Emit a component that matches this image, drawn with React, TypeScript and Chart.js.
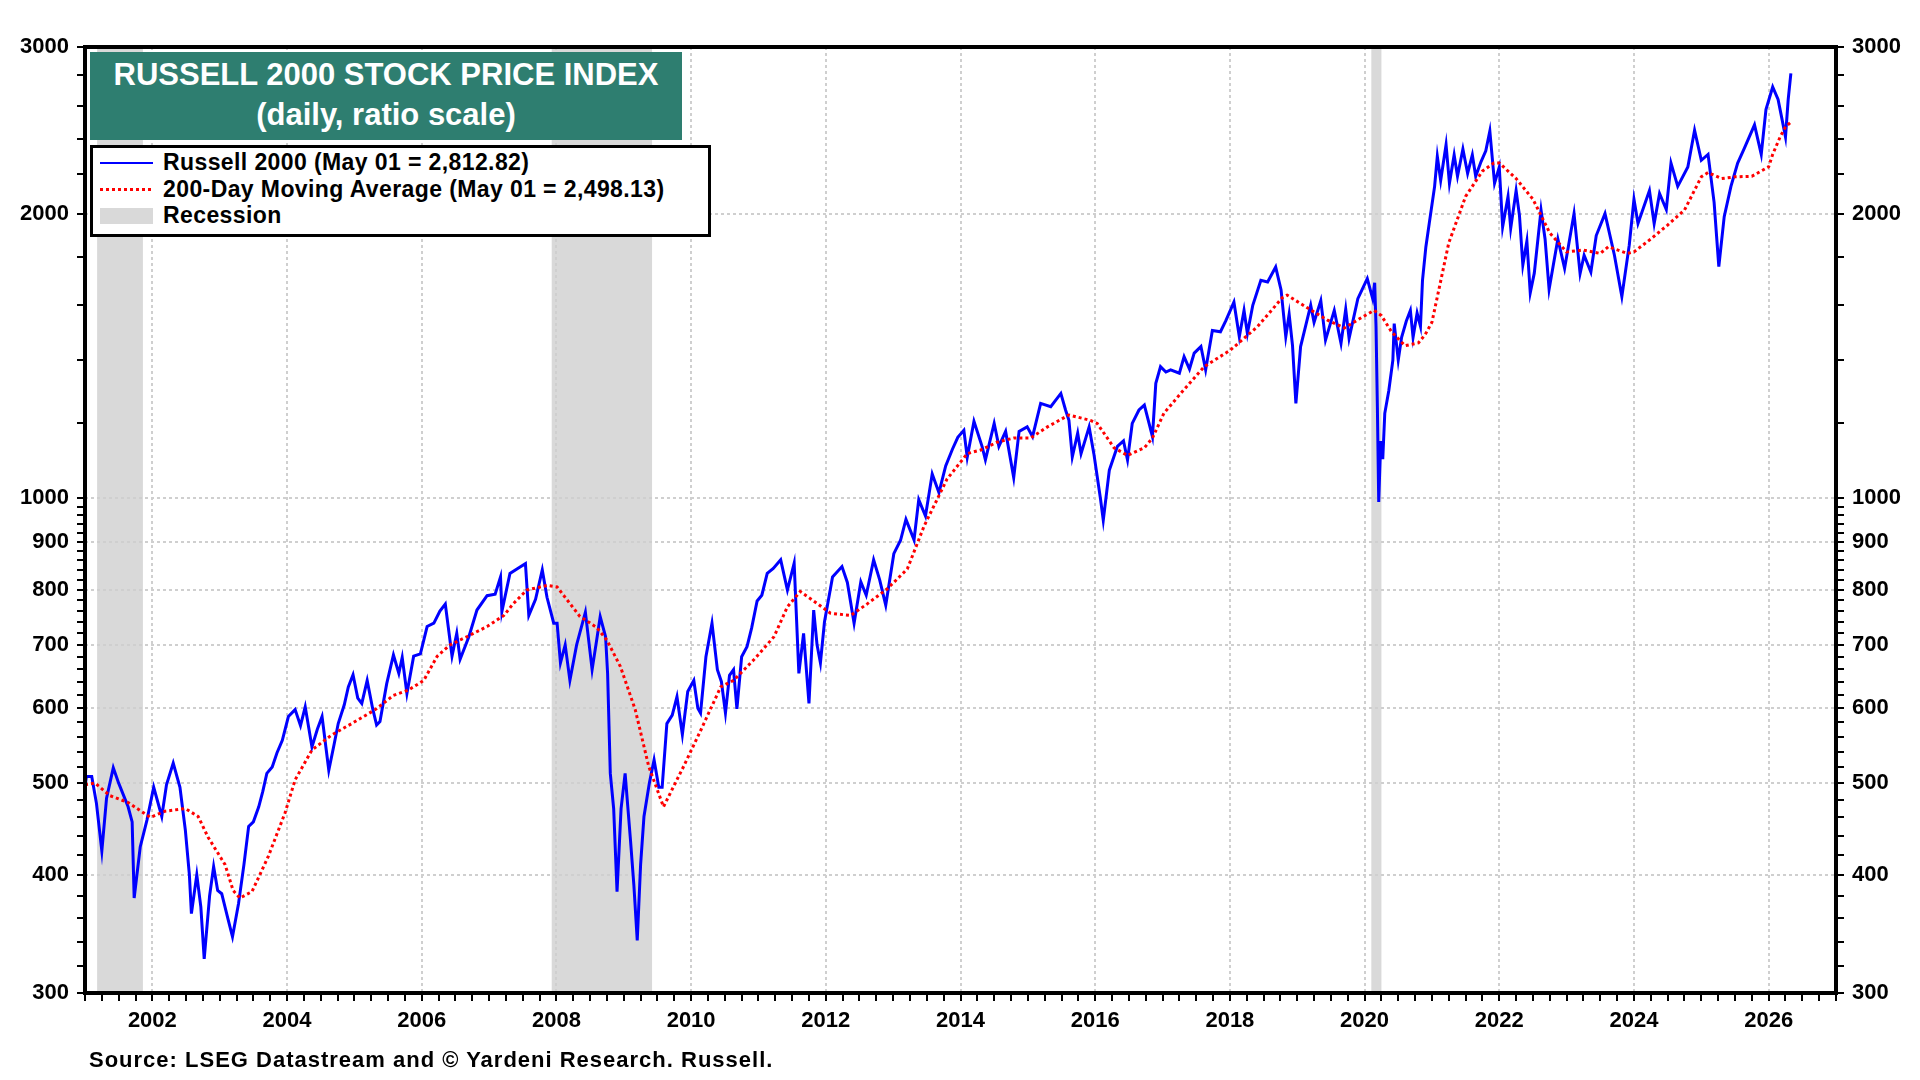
import { useEffect, useRef } from 'react'
import { Chart, registerables } from 'chart.js'

Chart.register(...registerables)

const FONT = '"Liberation Sans", Arial, Helvetica, sans-serif'

// Russell 2000 (decimal year, index level)
const russellX = [
  2001.0, 2001.02, 2001.1, 2001.17, 2001.25, 2001.32, 2001.42, 2001.5, 2001.64, 2001.7, 2001.73, 2001.82, 2001.92,
  2002.02, 2002.14, 2002.21, 2002.31, 2002.41, 2002.49, 2002.55, 2002.58, 2002.66, 2002.72, 2002.77, 2002.85, 2002.91, 2002.97,
  2003.03, 2003.12, 2003.19, 2003.28, 2003.36, 2003.43, 2003.5, 2003.58, 2003.64, 2003.7, 2003.78, 2003.85, 2003.93,
  2004.02, 2004.12, 2004.2, 2004.27, 2004.37, 2004.45, 2004.52, 2004.62, 2004.7, 2004.76, 2004.85, 2004.91, 2004.98,
  2005.05, 2005.11, 2005.19, 2005.27, 2005.33, 2005.38, 2005.48, 2005.58, 2005.66, 2005.71, 2005.78, 2005.88, 2005.98,
  2006.08, 2006.18, 2006.27, 2006.35, 2006.45, 2006.52, 2006.57, 2006.7, 2006.82, 2006.97,
  2007.09, 2007.17, 2007.19, 2007.31, 2007.46, 2007.54, 2007.59, 2007.69, 2007.79, 2007.86, 2007.96,
  2008.01, 2008.06, 2008.13, 2008.2, 2008.3, 2008.43, 2008.53, 2008.6, 2008.65, 2008.73, 2008.76, 2008.8, 2008.85, 2008.9, 2008.96,
  2009.02, 2009.1, 2009.15, 2009.2, 2009.25, 2009.3, 2009.38, 2009.45, 2009.52, 2009.57, 2009.64, 2009.72, 2009.79, 2009.87, 2009.95,
  2010.04, 2010.1, 2010.14, 2010.22, 2010.31, 2010.39, 2010.45, 2010.51, 2010.57, 2010.63, 2010.68, 2010.75, 2010.83, 2010.9, 2010.98,
  2011.05, 2011.13, 2011.22, 2011.33, 2011.43, 2011.53, 2011.6, 2011.67, 2011.75, 2011.82, 2011.87, 2011.92, 2011.98,
  2012.1, 2012.24, 2012.32, 2012.42, 2012.52, 2012.6, 2012.71, 2012.8, 2012.89,
  2013.01, 2013.11, 2013.19, 2013.31, 2013.38, 2013.48, 2013.58, 2013.68, 2013.78, 2013.88, 2013.96,
  2014.05, 2014.1, 2014.2, 2014.32, 2014.37, 2014.5, 2014.57, 2014.67, 2014.79, 2014.87, 2014.99,
  2015.07, 2015.19, 2015.34, 2015.49, 2015.56, 2015.61, 2015.66, 2015.74, 2015.79, 2015.91, 2015.98,
  2016.08, 2016.12, 2016.21, 2016.33, 2016.42, 2016.48, 2016.55, 2016.65, 2016.73, 2016.8, 2016.85, 2016.9, 2016.97,
  2017.05, 2017.12, 2017.25, 2017.32, 2017.4, 2017.47, 2017.57, 2017.64, 2017.74, 2017.86, 2017.94,
  2018.06, 2018.14, 2018.21, 2018.26, 2018.34, 2018.46, 2018.56, 2018.68, 2018.76, 2018.83, 2018.88, 2018.93, 2018.98,
  2019.05, 2019.2, 2019.25, 2019.35, 2019.42, 2019.55, 2019.65, 2019.72, 2019.77, 2019.9,
  2020.04, 2020.12, 2020.15, 2020.17, 2020.19, 2020.21, 2020.24, 2020.27, 2020.3, 2020.36, 2020.42, 2020.44, 2020.5,
  2020.55, 2020.62, 2020.68, 2020.72, 2020.78, 2020.83, 2020.86, 2020.91, 2020.96,
  2021.04, 2021.08, 2021.13, 2021.21, 2021.26, 2021.33, 2021.38, 2021.46, 2021.53, 2021.6, 2021.65, 2021.73, 2021.8, 2021.86, 2021.93,
  2022.0, 2022.05, 2022.13, 2022.17, 2022.25, 2022.3, 2022.35, 2022.41, 2022.46, 2022.52, 2022.62, 2022.68, 2022.74, 2022.8, 2022.87, 2022.97,
  2023.11, 2023.2, 2023.26, 2023.36, 2023.44, 2023.57, 2023.71, 2023.82, 2023.93,
  2024.0, 2024.06, 2024.23, 2024.3, 2024.38, 2024.48, 2024.55, 2024.65, 2024.8, 2024.9,
  2025.0, 2025.1, 2025.19, 2025.26, 2025.34, 2025.44, 2025.54, 2025.64, 2025.79, 2025.89, 2025.96,
  2026.06, 2026.14, 2026.19, 2026.25, 2026.29, 2026.33,
]
const russellY = [
  495, 508, 508, 476, 424, 482, 519, 500, 472, 455, 378, 428, 457,
  495, 461, 498, 525, 495, 446, 400, 364, 400, 370, 326, 380, 408, 385,
  382, 360, 344, 373, 410, 450, 455, 472, 490, 512, 520, 538, 555,
  588, 598, 575, 602, 546, 570, 588, 516, 550, 578, 605, 632, 651,
  615, 607, 642, 600, 576, 581, 637, 683, 653, 679, 622, 681, 685,
  732, 738, 760, 773, 681, 720, 676, 714, 762, 789,
  792, 826, 759, 833, 846, 853, 752, 782, 840, 786, 738,
  738, 670, 700, 642, 700, 758, 659, 710, 750, 714, 653, 512, 470, 384, 470,
  512, 435, 390, 341, 410, 461, 500, 529, 495, 495, 578, 590, 617, 563, 625,
  642, 600, 593, 680, 738, 659, 640, 593, 650, 659, 599, 680, 697, 730, 779,
  790, 833, 843, 861, 800, 854, 653, 720, 607, 762, 700, 670, 740,
  826, 847, 815, 738, 816, 790, 861, 820, 771,
  874, 903, 950, 904, 997, 958, 1061, 1014, 1082, 1127, 1160,
  1180, 1105, 1206, 1135, 1098, 1200, 1135, 1177, 1052, 1177, 1190,
  1162, 1260, 1250, 1291, 1240, 1209, 1106, 1172, 1115, 1190, 1115,
  997, 948, 1071, 1135, 1150, 1098, 1200, 1240, 1255, 1200, 1162, 1323, 1378,
  1360, 1367, 1356, 1412, 1370, 1424, 1447, 1367, 1505, 1500, 1541,
  1612, 1482, 1580, 1494, 1600, 1700, 1693, 1756, 1661, 1482, 1565, 1450, 1260,
  1447, 1600, 1535, 1618, 1470, 1580, 1458, 1585, 1476, 1626,
  1707, 1626, 1690, 1520, 1250, 991, 1150, 1100, 1230, 1300, 1400, 1530, 1400,
  1480, 1540, 1580, 1480, 1570, 1520, 1700, 1844, 1952,
  2137, 2299, 2168, 2365, 2153, 2307, 2190, 2340, 2205, 2307, 2190, 2270, 2330, 2445, 2153,
  2240, 1937, 2085, 1930, 2115, 1990, 1765, 1870, 1649, 1730, 2017, 1880, 1663, 1760, 1880, 1750,
  2000, 1728, 1807, 1735, 1896, 2000, 1807, 1634, 1852,
  2071, 1952, 2115, 1952, 2100, 2020, 2262, 2137, 2240, 2450,
  2277, 2310, 2055, 1758, 1985, 2137, 2262, 2345, 2482, 2310, 2576,
  2722, 2640, 2534, 2410, 2640, 2812.82,
]

// 200-day moving average
const maX = [
  2001.0, 2001.15, 2001.37, 2001.64, 2001.97, 2002.19, 2002.49, 2002.68, 2002.83, 2003.08, 2003.2, 2003.3, 2003.48, 2003.72, 2003.97,
  2004.12, 2004.37, 2004.66, 2004.96, 2005.31, 2005.58, 2005.8, 2006.03, 2006.23, 2006.42, 2006.67, 2006.97,
  2007.22, 2007.36, 2007.56, 2007.86, 2008.01, 2008.35, 2008.43, 2008.6, 2008.75, 2008.95, 2009.17, 2009.37, 2009.59, 2009.89,
  2010.14, 2010.44, 2010.63, 2010.93, 2011.23, 2011.43, 2011.62, 2011.82, 2012.07, 2012.37, 2012.62, 2012.91,
  2013.21, 2013.46, 2013.8, 2014.1, 2014.3, 2014.55, 2014.79, 2015.04, 2015.29, 2015.61, 2015.93, 2016.03, 2016.28, 2016.48,
  2016.73, 2016.85, 2017.02, 2017.27, 2017.62, 2018.01, 2018.41, 2018.78, 2018.85, 2019.15, 2019.45, 2019.7, 2019.95,
  2020.14, 2020.25, 2020.4, 2020.6, 2020.8, 2020.9, 2021.0, 2021.25, 2021.5, 2021.75, 2021.92, 2022.0, 2022.25, 2022.5, 2022.75,
  2023.0, 2023.25, 2023.5, 2023.62, 2023.9, 2024.0, 2024.25, 2024.5, 2024.75, 2025.0, 2025.1, 2025.3, 2025.5, 2025.75,
  2026.0, 2026.06, 2026.17, 2026.25, 2026.33,
]
const maY = [
  498, 500, 485, 477, 460, 467, 470, 461, 438, 410, 385, 378, 384, 418, 465,
  504, 542, 562, 578, 598, 619, 627, 642, 681, 700, 714, 732,
  752, 774, 800, 809, 806, 750, 744, 730, 708, 664, 598, 521, 472, 521,
  568, 632, 642, 675, 714, 768, 797, 779, 756, 752, 774, 802,
  842, 935, 1048, 1115, 1125, 1147, 1158, 1158, 1190, 1225, 1209, 1200, 1131, 1110,
  1131, 1158, 1230, 1291, 1378, 1435, 1519, 1630, 1640, 1590, 1543, 1514, 1552,
  1580, 1560, 1500, 1450, 1460, 1490, 1535, 1862, 2085, 2218, 2262, 2262, 2178, 2071, 1908,
  1822, 1830, 1815, 1845, 1815, 1822, 1880, 1945, 2017, 2187, 2210, 2178, 2187, 2190,
  2241, 2310, 2410, 2470, 2498.13,
]

const recessionStarts = [2001.18, 2007.93, 2020.1]
const recessionEnds = [2001.86, 2009.42, 2020.25]

const yLabelTicks = [300, 400, 500, 600, 700, 800, 900, 1000, 2000, 3000]
const yMinorSteps = [
  { from: 300, to: 1000, step: 20 },
  { from: 1000, to: 3000, step: 200 },
]
const xLabelYears = [2002, 2004, 2006, 2008, 2010, 2012, 2014, 2016, 2018, 2020, 2022, 2024, 2026]

const yTickValues: number[] = []
yMinorSteps.forEach(({ from, to, step }) => {
  for (let v = from; v < to; v += step) yTickValues.push(v)
})
yTickValues.push(3000)

const xTickValues: number[] = []
for (let q = 0; q <= 26 * 4; q++) xTickValues.push(2001 + q / 4)

const recessionPlugin = {
  id: 'recessions',
  beforeDraw(chart: any) {
    const { ctx, chartArea, scales } = chart
    ctx.save()
    ctx.fillStyle = '#d9d9d9'
    recessionStarts.forEach((s, i) => {
      const x1 = scales.x.getPixelForValue(s)
      const x2 = scales.x.getPixelForValue(recessionEnds[i])
      ctx.fillRect(x1, chartArea.top, x2 - x1, chartArea.bottom - chartArea.top)
    })
    ctx.restore()
  },
}

const framePlugin = {
  id: 'frame',
  afterDraw(chart: any) {
    const { ctx, chartArea } = chart
    ctx.save()
    ctx.strokeStyle = '#000'
    ctx.lineWidth = 4
    ctx.strokeRect(chartArea.left, chartArea.top, chartArea.right - chartArea.left, chartArea.bottom - chartArea.top)
    ctx.restore()
  },
}

const tickFont = { family: FONT, size: 22, weight: 'bold' as const }

function yAxis(position: 'left' | 'right', width: number) {
  return {
    type: 'logarithmic' as const,
    position,
    min: 300,
    max: 3000,
    afterBuildTicks: (scale: any) => {
      scale.ticks = yTickValues.map((v) => ({ value: v }))
    },
    afterFit: (scale: any) => {
      scale.width = width
    },
    ticks: {
      autoSkip: false,
      color: '#000',
      font: tickFont,
      padding: 8,
      callback: (value: any) => (yLabelTicks.includes(value) ? String(value) : ''),
    },
    grid: {
      drawOnChartArea: position === 'left',
      color: (c: any) => (c.tick && yLabelTicks.includes(c.tick.value) ? '#cfcfcf' : 'rgba(0,0,0,0)'),
      lineWidth: 2,
      tickColor: '#000',
      tickWidth: 2,
      tickLength: 8,
    },
    border: { display: false, dash: [3, 3] },
  }
}

function RussellChart() {
  const chartRef = useRef<HTMLCanvasElement>(null)
  const chartInstance = useRef<Chart | null>(null)

  useEffect(() => {
    if (!chartRef.current) return
    if (chartInstance.current) chartInstance.current.destroy()
    const ctx = chartRef.current.getContext('2d')
    if (!ctx) return

    chartInstance.current = new Chart(ctx, {
      type: 'line',
      data: {
        datasets: [
          {
            label: '200-Day Moving Average',
            data: maX.map((x, i) => ({ x, y: maY[i] })),
            borderColor: '#ff0000',
            borderWidth: 3,
            borderDash: [3, 3],
            pointRadius: 0,
            fill: false,
          },
          {
            label: 'Russell 2000',
            data: russellX.map((x, i) => ({ x, y: russellY[i] })),
            borderColor: '#0000ff',
            borderWidth: 3,
            pointRadius: 0,
            fill: false,
          },
        ],
      },
      options: {
        responsive: false,
        animation: false,
        devicePixelRatio: 1,
        layout: { padding: { top: 47, left: 0, right: 0, bottom: 0 } },
        plugins: {
          legend: { display: false },
          tooltip: { enabled: false },
        },
        scales: {
          x: {
            type: 'linear',
            min: 2001,
            max: 2027,
            afterBuildTicks: (scale: any) => {
              scale.ticks = xTickValues.map((v) => ({ value: v }))
            },
            afterFit: (scale: any) => {
              scale.height = 87
            },
            ticks: {
              autoSkip: false,
              maxRotation: 0,
              minRotation: 0,
              color: '#000',
              font: tickFont,
              padding: 7,
              callback: (value: any) => (xLabelYears.includes(value) ? String(value) : ''),
            },
            grid: {
              color: (c: any) => (c.tick && xLabelYears.includes(c.tick.value) ? '#cfcfcf' : 'rgba(0,0,0,0)'),
              lineWidth: 2,
              tickColor: '#000',
              tickWidth: 2,
              tickLength: 8,
            },
            border: { display: false, dash: [3, 3] },
          },
          y: yAxis('left', 85),
          y2: yAxis('right', 84),
        },
      },
      plugins: [recessionPlugin, framePlugin],
    })

    return () => {
      if (chartInstance.current) {
        chartInstance.current.destroy()
        chartInstance.current = null
      }
    }
  }, [])

  return <canvas ref={chartRef} width={1920} height={1080} style={{ position: 'absolute', left: 0, top: 0 }} />
}

export default function App() {
  const text = { fontFamily: FONT, fontWeight: 'bold' as const, position: 'absolute' as const, whiteSpace: 'nowrap' as const }
  const legendText = { ...text, left: 163, fontSize: 23, lineHeight: '26px', letterSpacing: '0.4px', color: '#000' }
  return (
    <div style={{ position: 'fixed', left: 0, top: 0, width: 1920, height: 1080, background: '#fff', overflow: 'hidden' }}>
      <RussellChart />
      <div
        style={{
          ...text,
          left: 90,
          top: 52,
          width: 592,
          height: 88,
          boxSizing: 'border-box',
          paddingTop: 3,
          background: '#2e7e70',
          color: '#fff',
          fontSize: 31,
          lineHeight: '40px',
          textAlign: 'center',
        }}
      >
        RUSSELL 2000 STOCK PRICE INDEX
        <br />
        (daily, ratio scale)
      </div>
      <div
        style={{
          position: 'absolute',
          left: 90,
          top: 145,
          width: 621,
          height: 92,
          boxSizing: 'border-box',
          border: '3px solid #000',
          background: '#fff',
        }}
      />
      <div style={{ position: 'absolute', left: 100, top: 162, width: 53, height: 2, background: '#0000ff' }} />
      <div
        style={{
          position: 'absolute',
          left: 100,
          top: 188,
          width: 53,
          height: 3,
          background: 'repeating-linear-gradient(to right, #ff0000 0 3px, transparent 3px 6px)',
        }}
      />
      <div style={{ position: 'absolute', left: 100, top: 208, width: 53, height: 16, background: '#d9d9d9' }} />
      <div style={{ ...legendText, top: 149 }}>Russell 2000 (May 01 = 2,812.82)</div>
      <div style={{ ...legendText, top: 176 }}>200-Day Moving Average (May 01 = 2,498.13)</div>
      <div style={{ ...legendText, top: 202 }}>Recession</div>
      <div style={{ ...text, left: 89, top: 1048, fontSize: 22, lineHeight: '24px', letterSpacing: '1px', color: '#000' }}>
        Source: LSEG Datastream and © Yardeni Research. Russell.
      </div>
    </div>
  )
}
